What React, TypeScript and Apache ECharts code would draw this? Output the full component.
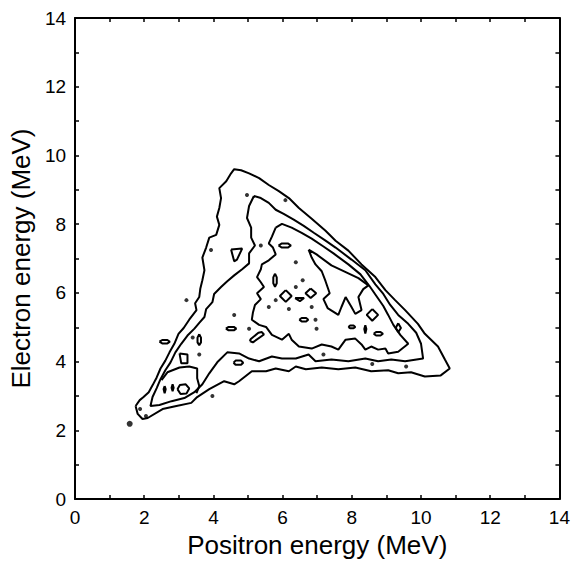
import React, { useEffect, useRef } from "react";
import * as echarts from "echarts";

type Pt = [number, number];

// Axis ticks (every 1 MeV) and labelled values (every 2 MeV)
const tickValues = [0, 1, 2, 3, 4, 5, 6, 7, 8, 9, 10, 11, 12, 13, 14];
const labelValues = [0, 2, 4, 6, 8, 10, 12, 14];

const xTitle = "Positron energy (MeV)";
const yTitle = "Electron energy (MeV)";

// Outermost contour level
const outerContour: Pt[] = [
  [1.75, 2.71], [1.87, 2.88], [1.98, 2.97], [2.13, 3.11], [2.24, 3.31], [2.36, 3.54],
  [2.47, 3.8], [2.61, 4.03], [2.73, 4.27], [2.87, 4.52], [2.99, 4.81], [3.14, 4.98],
  [3.3, 5.22], [3.51, 5.5], [3.47, 5.7], [3.59, 5.88], [3.62, 6.12], [3.68, 6.37],
  [3.74, 6.66], [3.68, 7.03], [3.79, 7.32], [3.88, 7.61], [4.08, 7.69], [4.17, 7.98],
  [4.1, 8.22], [4.17, 8.47], [4.22, 8.76], [4.17, 9.05], [4.37, 9.25], [4.51, 9.48],
  [4.6, 9.6], [4.8, 9.57], [5.03, 9.48], [5.32, 9.34], [5.6, 9.14], [5.89, 8.96],
  [6.18, 8.76], [6.47, 8.47], [6.84, 8.16], [7.24, 7.81], [7.53, 7.52], [7.9, 7.23],
  [8.28, 6.83], [8.68, 6.46], [8.97, 6.08], [9.25, 5.79], [9.54, 5.5], [9.91, 5.1],
  [10.11, 4.81], [10.49, 4.44], [10.69, 4.06], [10.83, 3.8], [10.57, 3.6], [10.11, 3.57],
  [9.71, 3.69], [9.34, 3.66], [9.05, 3.75], [8.56, 3.72], [8.1, 3.83], [7.61, 3.78],
  [7.13, 3.83], [6.67, 3.78], [6.38, 3.86], [6.18, 3.72], [5.8, 3.8], [5.52, 3.72],
  [5.11, 3.72], [4.74, 3.43], [4.6, 3.34], [4.31, 3.43], [3.88, 3.2], [3.53, 2.97],
  [3.36, 2.8], [2.93, 2.71], [2.53, 2.62], [2.1, 2.36], [1.95, 2.33], [1.81, 2.48],
];

// Second contour level
const secondContour: Pt[] = [
  [5.17, 8.82], [5.37, 8.76], [5.6, 8.62], [5.8, 8.42], [6.03, 8.3], [6.32, 8.13],
  [6.61, 7.95], [6.9, 7.75], [7.24, 7.52], [7.53, 7.32], [7.99, 6.97], [8.39, 6.66],
  [8.68, 6.25], [8.91, 5.97], [9.11, 5.65], [9.34, 5.36], [9.63, 5.1], [9.86, 4.84],
  [10.0, 4.52], [10.06, 4.09], [9.54, 4.01], [9.14, 4.06], [8.76, 4.01], [8.39, 4.09],
  [7.9, 4.01], [7.41, 4.06], [6.95, 4.01], [6.75, 4.21], [6.38, 4.09], [5.98, 4.09],
  [5.69, 4.15], [5.32, 4.01], [5.03, 4.09], [4.74, 4.24], [4.4, 4.27], [4.11, 3.98],
  [3.88, 3.66], [3.68, 3.34], [3.45, 3.11], [3.16, 2.94], [2.79, 2.85], [2.44, 2.74],
  [2.18, 2.71], [2.24, 2.97], [2.36, 3.23], [2.47, 3.49], [2.61, 3.75], [2.76, 3.98],
  [2.9, 4.27], [3.07, 4.52], [3.25, 4.76], [3.45, 4.96], [3.59, 5.13], [3.74, 5.3],
  [3.79, 5.53], [3.97, 5.73], [4.02, 5.97], [4.22, 6.17], [4.4, 6.34], [4.6, 6.51],
  [4.83, 6.69], [5.03, 6.86], [5.03, 7.15], [5.2, 7.38], [5.09, 7.61], [5.09, 7.9],
  [4.97, 8.18], [5.03, 8.53],
];

// Third contour level (ragged inner region)
const thirdContour: Pt[] = [
  [5.8, 7.9], [5.98, 8.01], [6.26, 7.9], [6.55, 7.75], [6.84, 7.58], [7.18, 7.35],
  [7.47, 7.15], [7.9, 6.83], [8.25, 6.54], [8.51, 6.2], [8.71, 5.91], [8.91, 5.62],
  [9.05, 5.36], [9.2, 5.07], [9.4, 4.78], [9.63, 4.52], [9.34, 4.29], [9.05, 4.24],
  [8.97, 4.38], [8.76, 4.35], [8.56, 4.44], [8.39, 4.35], [8.28, 4.5], [8.1, 4.67],
  [7.82, 4.64], [7.61, 4.35], [7.41, 4.44], [7.13, 4.5], [6.84, 4.38], [6.47, 4.44],
  [6.26, 4.64], [6.18, 4.81], [5.98, 4.64], [5.69, 4.78], [5.52, 5.01], [5.32, 5.07],
  [5.11, 5.22], [5.14, 5.42], [5.2, 5.65], [5.37, 5.82], [5.26, 5.99], [5.46, 6.17],
  [5.37, 6.31], [5.26, 6.46], [5.37, 6.69], [5.4, 6.83], [5.6, 6.95], [5.8, 7.12],
  [5.72, 7.32], [5.6, 7.44], [5.69, 7.64],
];

// Innermost tongue with its jagged lower edge
const innerContour: Pt[] = [
  [6.75, 7.26], [6.84, 7.03], [6.95, 6.83], [7.13, 6.63], [7.24, 6.34], [7.36, 5.99],
  [7.18, 5.82], [7.3, 5.56], [7.61, 5.36], [7.7, 5.59], [7.82, 5.88], [7.99, 5.59],
  [8.1, 5.39], [8.28, 5.5], [8.19, 5.88], [8.33, 6.11], [8.48, 6.22], [8.19, 6.43],
  [7.9, 6.57], [7.41, 6.8], [6.98, 7.12],
];

// Open arc in the lower-left lobe
const lowerLeftArc: Pt[] = [
  [2.5, 3.46], [2.67, 3.69], [3.02, 3.83], [3.3, 3.86], [3.53, 3.8], [3.53, 3.52],
  [3.59, 3.29], [3.51, 3.08],
];

// Small closed islands
const islandA: Pt[] = [[4.51, 7.26], [4.83, 7.29], [4.68, 6.97], [4.6, 6.92]];
const islandB: Pt[] = [[5.88, 7.38], [5.98, 7.44], [6.15, 7.44], [6.24, 7.38], [6.15, 7.32], [5.98, 7.32]];
const islandC: Pt[] = [[5.78, 6.56], [5.83, 6.45], [5.83, 6.28], [5.78, 6.18], [5.73, 6.28], [5.73, 6.45]];
const islandD: Pt[] = [[6.09, 6.08], [6.26, 5.91], [6.09, 5.74], [5.92, 5.91]];
const islandE: Pt[] = [[6.81, 6.13], [6.97, 5.99], [6.81, 5.85], [6.66, 5.99]];
const islandF: Pt[] = [[6.36, 5.85], [6.62, 5.85], [6.5, 5.76]];
const islandG: Pt[] = [[6.48, 5.22], [6.55, 5.27], [6.68, 5.27], [6.74, 5.22], [6.68, 5.17], [6.55, 5.17]];
const islandH: Pt[] = [[4.36, 4.96], [4.44, 5.01], [4.59, 5.01], [4.66, 4.96], [4.59, 4.91], [4.44, 4.91]];
const islandI: Pt[] = [[5.05, 4.6], [5.14, 4.56], [5.46, 4.79], [5.4, 4.86], [5.3, 4.84], [5.08, 4.66]];
const islandJ: Pt[] = [[2.44, 4.58], [2.52, 4.63], [2.67, 4.63], [2.74, 4.58], [2.67, 4.53], [2.52, 4.53]];
const islandK: Pt[] = [[3.59, 4.8], [3.64, 4.7], [3.64, 4.56], [3.59, 4.48], [3.54, 4.56], [3.54, 4.7]];
const islandL: Pt[] = [[8.59, 5.53], [8.76, 5.36], [8.59, 5.19], [8.43, 5.36]];
const islandM: Pt[] = [[7.9, 5.01], [7.95, 5.05], [8.05, 5.05], [8.1, 5.01], [8.05, 4.97], [7.95, 4.97]];
const islandN: Pt[] = [[8.39, 5.06], [8.42, 4.95], [8.39, 4.82], [8.36, 4.95]];
const islandO: Pt[] = [[8.63, 4.81], [8.7, 4.86], [8.83, 4.86], [8.9, 4.81], [8.83, 4.76], [8.7, 4.76]];
const islandP: Pt[] = [[9.34, 5.12], [9.42, 4.98], [9.34, 4.86], [9.27, 4.98]];
const islandQ: Pt[] = [[4.58, 3.97], [4.64, 4.03], [4.8, 4.03], [4.86, 3.97], [4.8, 3.91], [4.64, 3.91]];
const islandR: Pt[] = [[3.02, 4.24], [3.25, 4.21], [3.25, 3.95], [3.07, 3.95]];
const islandS: Pt[] = [[2.96, 3.2], [3.03, 3.32], [3.2, 3.34], [3.3, 3.22], [3.22, 3.07], [3.05, 3.06]];
const islandT: Pt[] = [[2.59, 3.29], [2.62, 3.2], [2.59, 3.08], [2.56, 3.2]];
const islandU: Pt[] = [[2.82, 3.34], [2.85, 3.24], [2.82, 3.14], [2.79, 3.24]];

const islands: Pt[][] = [
  islandA, islandB, islandC, islandD, islandE, islandF, islandG, islandH, islandI, islandJ,
  islandK, islandL, islandM, islandN, islandO, islandP, islandQ, islandR, islandS, islandT, islandU,
];

// Single-bin spots
const spots: Pt[] = [
  [4.97, 8.85], [6.08, 8.7], [5.37, 7.38], [6.38, 6.89], [6.58, 6.37], [6.38, 6.17],
  [5.8, 5.79], [5.6, 5.59], [6.18, 5.53], [6.84, 5.59], [6.95, 5.22], [6.98, 4.96],
  [4.6, 5.36], [5.03, 4.96], [3.93, 7.25], [3.22, 5.79], [3.4, 4.7], [3.59, 4.21],
  [1.88, 2.62], [2.05, 2.42], [3.97, 3.0], [7.18, 4.21], [8.59, 3.93], [9.57, 3.86],
];
const largeSpots: Pt[] = [[1.58, 2.19]];

const FONT = '"Liberation Sans", Arial, Helvetica, sans-serif';

const closed = (pts: Pt[]): Pt[] => [...pts, pts[0]];

const lineSeries = (pts: Pt[]) => ({
  type: "line" as const,
  data: pts,
  showSymbol: false,
  symbol: "none",
  silent: true,
  lineStyle: { color: "#000", width: 2 },
  z: 3,
});

export default function App() {
  const ref = useRef<HTMLDivElement>(null);

  useEffect(() => {
    if (!ref.current) return;
    const chart = echarts.init(ref.current, undefined, { renderer: "svg" });

    const axisLine = { show: true, onZero: false, lineStyle: { color: "#000", width: 2 } };
    const axisTick = {
      show: true,
      inside: true,
      length: 4,
      customValues: tickValues,
      lineStyle: { color: "#000", width: 1.5 },
    };
    const label = {
      customValues: labelValues,
      color: "#000",
      fontSize: 19,
      fontFamily: FONT,
    };
    const nameStyle = { color: "#000", fontSize: 26, fontFamily: FONT };

    const series: any[] = [
      lineSeries(closed(outerContour)),
      lineSeries(closed(secondContour)),
      lineSeries(closed(thirdContour)),
      lineSeries(closed(innerContour)),
      lineSeries(lowerLeftArc),
      ...islands.map((p) => lineSeries(closed(p))),
      {
        type: "scatter",
        data: spots,
        symbol: "circle",
        symbolSize: 4,
        silent: true,
        itemStyle: { color: "#000" },
        z: 4,
      },
      {
        type: "scatter",
        data: largeSpots,
        symbol: "circle",
        symbolSize: 6,
        silent: true,
        itemStyle: { color: "#000" },
        z: 4,
      },
    ];

    chart.setOption({
      animation: false,
      backgroundColor: "#fff",
      grid: { left: 75, right: 11, top: 18, bottom: 59, show: false },
      xAxis: [
        {
          type: "value",
          position: "bottom",
          min: 0,
          max: 14,
          interval: 2,
          axisLine,
          axisTick,
          axisLabel: { ...label, margin: 9 },
          splitLine: { show: false },
          name: xTitle,
          nameLocation: "middle",
          nameGap: 29,
          nameTextStyle: nameStyle,
        },
        {
          type: "value",
          position: "top",
          min: 0,
          max: 14,
          interval: 2,
          axisLine,
          axisTick,
          axisLabel: { show: false },
          splitLine: { show: false },
        },
      ],
      yAxis: [
        {
          type: "value",
          position: "left",
          min: 0,
          max: 14,
          interval: 2,
          axisLine,
          axisTick,
          axisLabel: { ...label, margin: 9 },
          splitLine: { show: false },
          name: yTitle,
          nameLocation: "middle",
          nameGap: 35,
          nameTextStyle: nameStyle,
        },
        {
          type: "value",
          position: "right",
          min: 0,
          max: 14,
          interval: 2,
          axisLine,
          axisTick,
          axisLabel: { show: false },
          splitLine: { show: false },
        },
      ],
      series,
    });

    return () => chart.dispose();
  }, []);

  return (
    <div
      ref={ref}
      style={{ position: "fixed", left: 0, top: 0, width: 573, height: 563, background: "#fff" }}
    />
  );
}
